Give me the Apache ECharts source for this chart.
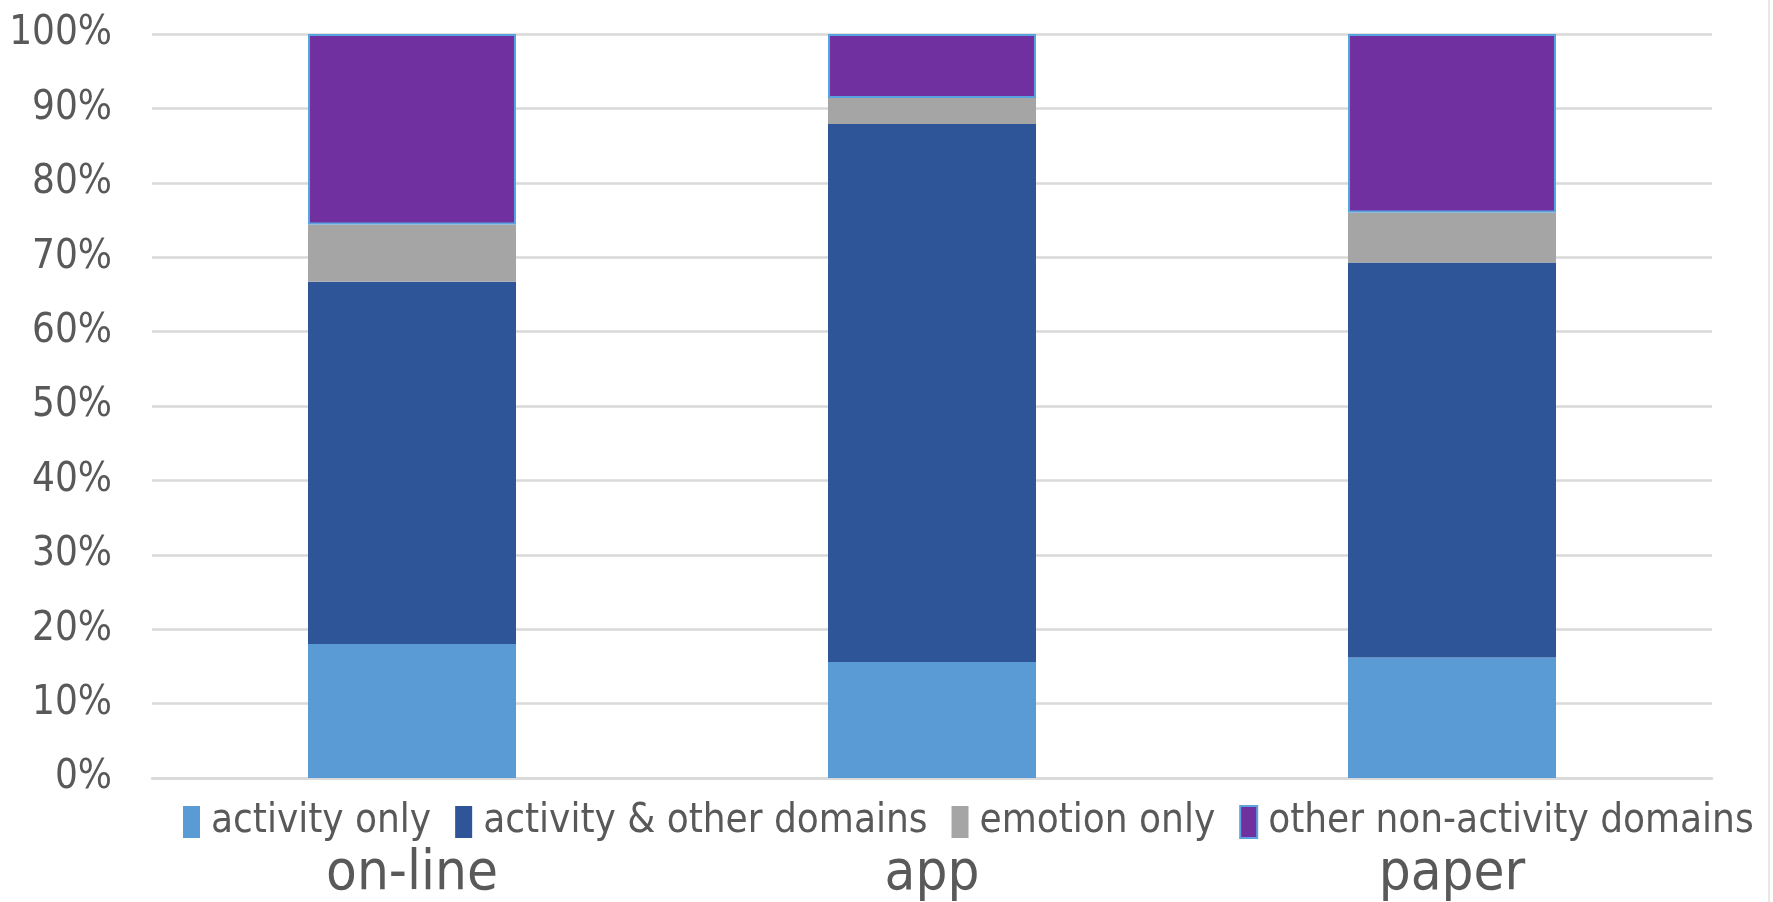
<!DOCTYPE html>
<html>
<head>
<meta charset="utf-8">
<script src="https://cdn.jsdelivr.net/npm/echarts@6/dist/echarts.min.js"></script>
<style>
html,body{margin:0;padding:0;background:#fff;}
#main{width:1773px;height:902px;}
</style>
</head>
<body>
<div id="main"></div>
<script>
var categories = ['on-line', 'app', 'paper'];
var activityOnly = [18.0, 15.6, 16.2];
var activityOther = [48.7, 72.3, 53.1];
var emotionOnly = [7.7, 3.5, 6.7];
var otherNonActivity = [25.6, 8.6, 24.0];
var seriesNames = ['activity only', 'activity & other domains', 'emotion only', 'other non-activity domains'];
var yTicks = [0, 10, 20, 30, 40, 50, 60, 70, 80, 90, 100];

var FONT = '"DejaVu Sans Condensed", "Liberation Sans Narrow", "Liberation Sans", sans-serif';
var chart = echarts.init(document.getElementById('main'));

function bar(name, data, color, border) {
  return {
    name: name,
    type: 'bar',
    stack: 'total',
    barWidth: '40%',
    data: data,
    itemStyle: border ? { color: color, borderColor: '#5BA3E0', borderWidth: 2 } : { color: color },
    emphasis: { disabled: true }
  };
}

chart.setOption({
  animation: false,
  backgroundColor: '#ffffff',
  grid: { left: 152, right: 61, top: 34, bottom: 123, containLabel: false },
  legend: {
    top: 797,
    left: 178,
    width: 1595,
    itemWidth: 17,
    itemHeight: 32,
    itemGap: 24,
    icon: 'rect',
    textStyle: { fontFamily: FONT, fontSize: 40, color: '#595959', padding: [0, 0, 0, 6] },
    data: seriesNames
  },
  xAxis: {
    type: 'category',
    data: categories,
    axisLine: { lineStyle: { color: '#D9D9D9', width: 2.5 } },
    axisTick: { show: false },
    axisLabel: { fontFamily: FONT, fontSize: 56, color: '#595959', margin: 68 }
  },
  yAxis: {
    type: 'value',
    min: yTicks[0],
    max: yTicks[yTicks.length - 1],
    interval: 10,
    axisLine: { show: false },
    axisTick: { show: false },
    splitLine: { lineStyle: { color: '#D9D9D9', width: 2.5 } },
    axisLabel: {
      fontFamily: FONT, fontSize: 40, color: '#595959', margin: 40,
      formatter: function (v) { return v + '%'; }
    }
  },
  graphic: [{
    type: 'line',
    shape: { x1: 1769, y1: 0, x2: 1769, y2: 902 },
    style: { stroke: '#D0D0D0', lineWidth: 1 }
  }],
  series: [
    bar(seriesNames[0], activityOnly, '#5B9BD5', false),
    bar(seriesNames[1], activityOther, '#2E5597', false),
    bar(seriesNames[2], emotionOnly, '#A5A5A5', false),
    bar(seriesNames[3], otherNonActivity, '#7030A0', true)
  ]
});
</script>
</body>
</html>
